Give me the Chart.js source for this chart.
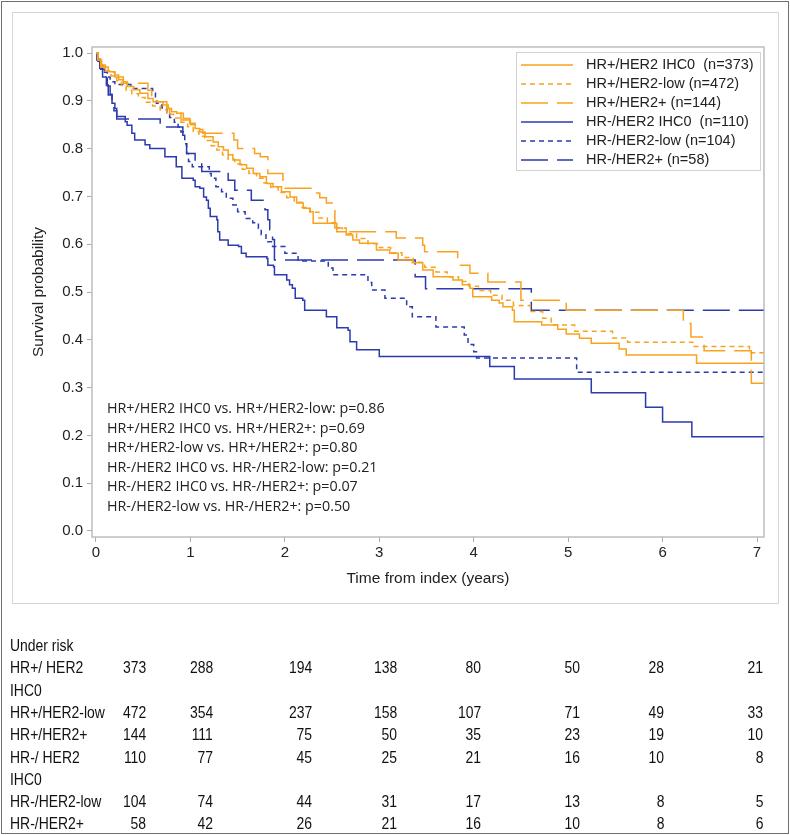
<!DOCTYPE html>
<html>
<head>
<meta charset="utf-8">
<script src="https://cdn.jsdelivr.net/npm/chart.js@4.4.1/dist/chart.umd.min.js"></script>
<style>
  html, body { margin: 0; padding: 0; background: #fff; }
  #page { position: relative; width: 790px; height: 835px; overflow: hidden; font-family: 'Liberation Sans', Arial, sans-serif; }
  #outer { position: absolute; left: 1px; top: 1px; width: 786px; height: 831px; border: 1px solid #707070; }
  #panel { position: absolute; left: 12px; top: 12px; width: 765px; height: 590px; border: 1px solid #d6d6d6; }
  #chartBox { position: absolute; left: 0; top: 0; width: 790px; height: 610px; }
  #risk { position: absolute; left: 0; top: 0; width: 790px; height: 835px; color: #111;
          font-family: 'Liberation Sans Narrow', 'Arial Narrow', 'Liberation Sans', sans-serif; font-size: 17px; }
  .cell { position: absolute; white-space: nowrap; line-height: 20px; transform: scaleX(0.82); }
  .cell.l { transform-origin: left center; }
  .cell.r { transform-origin: right center; }
</style>
</head>
<body>
<div id="page">
  <div id="outer"></div>
  <div id="panel"></div>
  <div id="chartBox"><canvas id="km" width="790" height="610"></canvas></div>
  <div id="risk"></div>
</div>
<script>
// ---- chart data ----
const xTicks = [0, 1, 2, 3, 4, 5, 6, 7];
const yTicks = [0, 0.1, 0.2, 0.3, 0.4, 0.5, 0.6, 0.7, 0.8, 0.9, 1.0];

const seriesNames = ['HR+/HER2 IHC0  (n=373)', 'HR+/HER2-low (n=472)', 'HR+/HER2+ (n=144)',
                     'HR-/HER2 IHC0  (n=110)', 'HR-/HER2-low (n=104)', 'HR-/HER2+ (n=58)'];

// HR+/HER2 IHC0
const hrPosIhc0Time = [0, 0.02, 0.06, 0.13, 0.2, 0.24, 0.29, 0.33, 0.4, 0.465, 0.55, 0.605, 0.71, 0.765, 0.8, 0.855,
  0.925, 0.995, 1.05, 1.1, 1.155, 1.24, 1.295, 1.35, 1.4, 1.45, 1.525, 1.595, 1.665, 1.735, 1.805, 1.875, 1.965,
  2.055, 2.125, 2.195, 2.265, 2.30, 2.55, 2.65, 2.72, 2.79, 2.97, 3.11, 3.20, 3.35, 3.46, 3.57, 3.78, 3.88, 3.96,
  3.99, 4.19, 4.27, 4.31, 4.41, 4.43, 4.72, 4.89, 4.98, 5.12, 5.245, 5.54, 5.615, 6.36, 7.07];
const hrPosIhc0Surv = [1.0, 0.985, 0.971, 0.961, 0.954, 0.944, 0.94, 0.93, 0.923, 0.916, 0.905, 0.898, 0.891, 0.884,
  0.877, 0.874, 0.863, 0.853, 0.842, 0.835, 0.825, 0.814, 0.804, 0.797, 0.787, 0.776, 0.766, 0.759, 0.748, 0.741,
  0.727, 0.72, 0.71, 0.699, 0.686, 0.675, 0.668, 0.644, 0.626, 0.619, 0.609, 0.602, 0.588, 0.581, 0.567, 0.561,
  0.546, 0.532, 0.525, 0.515, 0.508, 0.49, 0.483, 0.477, 0.469, 0.462, 0.438, 0.431, 0.422, 0.412, 0.403, 0.393,
  0.381, 0.368, 0.351, 0.351];

// HR+/HER2-low
const hrPosLowTime = [0, 0.02, 0.05, 0.1, 0.16, 0.22, 0.27, 0.32, 0.38, 0.45, 0.52, 0.6, 0.68, 0.75, 0.82, 0.9, 0.97,
  1.03, 1.09, 1.15, 1.22, 1.28, 1.34, 1.4, 1.47, 1.55, 1.62, 1.7, 1.78, 1.85, 1.93, 2.02, 2.1, 2.18, 2.27, 2.36, 2.45,
  2.55, 2.65, 2.76, 2.88, 3.0, 3.12, 3.24, 3.36, 3.48, 3.6, 3.72, 3.84, 3.95, 4.05, 4.18, 4.3, 4.42, 4.6, 4.73, 4.82,
  5.07, 5.47, 5.63, 6.32, 6.92, 7.07];
const hrPosLowSurv = [1.0, 0.988, 0.975, 0.963, 0.952, 0.942, 0.932, 0.922, 0.915, 0.907, 0.897, 0.889, 0.881, 0.872,
  0.864, 0.855, 0.846, 0.836, 0.826, 0.817, 0.806, 0.797, 0.787, 0.778, 0.768, 0.757, 0.748, 0.738, 0.728, 0.719,
  0.708, 0.697, 0.688, 0.677, 0.667, 0.655, 0.645, 0.634, 0.622, 0.612, 0.601, 0.593, 0.582, 0.572, 0.562, 0.552,
  0.542, 0.532, 0.522, 0.512, 0.503, 0.493, 0.483, 0.472, 0.459, 0.445, 0.431, 0.418, 0.404, 0.395, 0.386, 0.373, 0.373];

// HR+/HER2+
const hrPosPosTime = [0, 0.02, 0.05, 0.1, 0.2, 0.29, 0.55, 0.59, 0.65, 0.75, 0.78, 0.9, 1.0, 1.1, 1.13, 1.46, 1.5,
  1.68, 1.74, 1.82, 1.98, 2.0, 2.32, 2.37, 2.44, 2.51, 2.53, 2.61, 3.18, 3.46, 3.48, 3.83, 3.96, 4.15, 4.5, 4.96,
  4.98, 6.22, 6.3, 6.44, 6.94, 7.07];
const hrPosPosSurv = [1.0, 0.985, 0.97, 0.96, 0.95, 0.937, 0.922, 0.909, 0.898, 0.884, 0.874, 0.86, 0.85, 0.84,
  0.832, 0.818, 0.80, 0.79, 0.783, 0.748, 0.72, 0.717, 0.707, 0.697, 0.686, 0.672, 0.634, 0.626, 0.613, 0.598,
  0.584, 0.556, 0.539, 0.521, 0.483, 0.476, 0.462, 0.434, 0.406, 0.377, 0.309, 0.309];

// HR-/HER2 IHC0
const hrNegIhc0Time = [0, 0.01, 0.04, 0.07, 0.11, 0.13, 0.17, 0.2, 0.22, 0.31, 0.33, 0.38, 0.41, 0.52, 0.57, 0.73,
  0.85, 0.91, 1.03, 1.05, 1.10, 1.14, 1.17, 1.19, 1.21, 1.28, 1.29, 1.31, 1.40, 1.51, 1.54, 1.59, 1.81, 1.82, 1.88,
  1.89, 2.02, 2.05, 2.08, 2.11, 2.19, 2.21, 2.44, 2.55, 2.67, 2.69, 2.76, 3.0, 4.17, 4.43, 5.245, 5.82, 6.0, 6.31, 7.07];
const hrNegIhc0Surv = [1.0, 0.985, 0.968, 0.95, 0.933, 0.912, 0.895, 0.884, 0.867, 0.856, 0.849, 0.832, 0.818,
  0.808, 0.80, 0.783, 0.762, 0.738, 0.734, 0.72, 0.717, 0.699, 0.692, 0.675, 0.658, 0.651, 0.626, 0.609, 0.598,
  0.595, 0.581, 0.574, 0.570, 0.556, 0.553, 0.536, 0.525, 0.515, 0.508, 0.487, 0.483, 0.462, 0.448, 0.425, 0.42,
  0.396, 0.379, 0.365, 0.344, 0.318, 0.289, 0.259, 0.228, 0.197, 0.197];

// HR-/HER2-low
const hrNegLowTime = [0, 0.02, 0.04, 0.07, 0.09, 0.12, 0.15, 0.2, 0.37, 0.6, 0.63, 0.64, 0.7, 0.75, 0.78, 0.83, 0.87,
  0.9, 0.94, 0.96, 0.98, 1.02, 1.2, 1.22, 1.27, 1.33, 1.38, 1.45, 1.5, 1.58, 1.66, 1.72, 1.75, 1.8, 1.87, 2.0, 2.14,
  2.46, 2.51, 2.88, 2.92, 3.06, 3.29, 3.35, 3.6, 3.9, 3.94, 4.0, 4.03, 5.09, 7.07];
const hrNegLowSurv = [1.0, 0.99, 0.98, 0.97, 0.96, 0.95, 0.94, 0.934, 0.926, 0.916, 0.905, 0.895, 0.885, 0.875,
  0.865, 0.855, 0.845, 0.835, 0.81, 0.79, 0.773, 0.762, 0.748, 0.738, 0.72, 0.71, 0.696, 0.682, 0.668, 0.654, 0.645,
  0.633, 0.62, 0.605, 0.595, 0.581, 0.565, 0.55, 0.536, 0.52, 0.504, 0.487, 0.469, 0.448, 0.427, 0.41, 0.39, 0.375,
  0.362, 0.332, 0.332];

// HR-/HER2+
const hrNegPosTime = [0, 0.02, 0.05, 0.09, 0.12, 0.15, 0.17, 0.19, 0.22, 0.68, 0.92, 0.94, 0.96, 1.05, 1.12, 1.40,
  1.47, 1.645, 1.79, 1.82, 1.84, 1.87, 1.89, 3.38, 3.49, 4.61, 7.07];
const hrNegPosSurv = [1.0, 0.983, 0.966, 0.948, 0.931, 0.914, 0.897, 0.879, 0.862, 0.845, 0.828, 0.81, 0.79, 0.772,
  0.752, 0.734, 0.713, 0.692, 0.672, 0.651, 0.63, 0.61, 0.567, 0.532, 0.507, 0.462, 0.462];

const pValueLines = [
  'HR+/HER2 IHC0 vs. HR+/HER2-low: p=0.86',
  'HR+/HER2 IHC0 vs. HR+/HER2+: p=0.69',
  'HR+/HER2-low vs. HR+/HER2+: p=0.80',
  'HR-/HER2 IHC0 vs. HR-/HER2-low: p=0.21',
  'HR-/HER2 IHC0 vs. HR-/HER2+: p=0.07',
  'HR-/HER2-low vs. HR-/HER2+: p=0.50'
];

// numbers at risk, one row per group, columns at years 0..7
const riskTitle = 'Under risk';
const riskGroupLabels = [['HR+/ HER2', 'IHC0'], ['HR+/HER2-low'], ['HR+/HER2+'], ['HR-/ HER2', 'IHC0'], ['HR-/HER2-low'], ['HR-/HER2+']];
const riskHrPosIhc0 = [373, 288, 194, 138, 80, 50, 28, 21];
const riskHrPosLow  = [472, 354, 237, 158, 107, 71, 49, 33];
const riskHrPosPos  = [144, 111, 75, 50, 35, 23, 19, 10];
const riskHrNegIhc0 = [110, 77, 45, 25, 21, 16, 10, 8];
const riskHrNegLow  = [104, 74, 44, 31, 17, 13, 8, 5];
const riskHrNegPos  = [58, 42, 26, 21, 16, 10, 8, 6];

// ---- styling ----
const ORANGE = '#F9A21E';
const BLUE = '#2B3BAE';
const SHORT_DASH = [5, 4];
const LONG_DASH = [27, 9];
const FONT = "'Liberation Sans', Arial, sans-serif";

const series = [
  { t: hrPosIhc0Time, s: hrPosIhc0Surv, color: ORANGE, dash: [] },
  { t: hrPosLowTime,  s: hrPosLowSurv,  color: ORANGE, dash: SHORT_DASH },
  { t: hrPosPosTime,  s: hrPosPosSurv,  color: ORANGE, dash: LONG_DASH },
  { t: hrNegIhc0Time, s: hrNegIhc0Surv, color: BLUE,   dash: [] },
  { t: hrNegLowTime,  s: hrNegLowSurv,  color: BLUE,   dash: SHORT_DASH },
  { t: hrNegPosTime,  s: hrNegPosSurv,  color: BLUE,   dash: LONG_DASH }
];

// plot frame (box round the chart area)
const framePlugin = {
  id: 'frame',
  beforeDatasetsDraw(chart) {
    const { ctx, chartArea: a } = chart;
    ctx.save();
    ctx.strokeStyle = '#b9bdc2';
    ctx.lineWidth = 1.5;
    ctx.strokeRect(a.left, a.top, a.right - a.left, a.bottom - a.top);
    ctx.restore();
  }
};

// legend box in the upper right, drawn with line samples
const legendPlugin = {
  id: 'kmLegend',
  afterDatasetsDraw(chart) {
    const ctx = chart.ctx;
    const box = { x: 516.5, y: 52.5, w: 244, h: 118 };
    ctx.save();
    ctx.fillStyle = '#fff';
    ctx.fillRect(box.x, box.y, box.w, box.h);
    ctx.strokeStyle = '#d2d2d2';
    ctx.lineWidth = 1;
    ctx.strokeRect(box.x, box.y, box.w, box.h);
    ctx.font = '14.5px ' + FONT;
    ctx.textBaseline = 'middle';
    seriesNames.forEach((name, i) => {
      const y = 65 + i * 19;
      ctx.strokeStyle = series[i].color;
      ctx.lineWidth = 1.5;
      ctx.setLineDash(series[i].dash);
      ctx.beginPath();
      ctx.moveTo(521, y);
      ctx.lineTo(573, y);
      ctx.stroke();
      ctx.setLineDash([]);
      ctx.fillStyle = '#222';
      ctx.fillText(name, 586, y);
    });
    ctx.restore();
  }
};

// log-rank p values in the lower left
const pValuePlugin = {
  id: 'pValues',
  afterDatasetsDraw(chart) {
    const ctx = chart.ctx;
    ctx.save();
    ctx.font = "14.3px 'Open Sans', sans-serif";
    ctx.fillStyle = '#222';
    ctx.textBaseline = 'middle';
    pValueLines.forEach((line, i) => ctx.fillText(line, 107, 409 + i * 19.6));
    ctx.restore();
  }
};

new Chart(document.getElementById('km'), {
  type: 'line',
  data: {
    datasets: series.map((s, i) => ({
      label: seriesNames[i],
      data: s.t.map((t, k) => ({ x: t, y: s.s[k] })),
      borderColor: s.color,
      borderWidth: 1.5,
      borderDash: s.dash,
      stepped: true,
      pointRadius: 0,
      fill: false
    }))
  },
  options: {
    responsive: false,
    animation: false,
    layout: { padding: { left: 25, top: 47, right: 26, bottom: 18 } },
    plugins: { legend: { display: false }, tooltip: { enabled: false } },
    scales: {
      x: {
        type: 'linear', min: -0.042, max: 7.074,
        afterBuildTicks: sc => { sc.ticks = xTicks.map(v => ({ value: v })); },
        afterFit: sc => { sc.height = 55; },
        grid: { drawOnChartArea: false, drawTicks: true, tickLength: 5, color: '#a9adb2' },
        border: { display: false },
        ticks: { color: '#222', font: { size: 15, family: FONT }, padding: 2, maxRotation: 0, autoSkip: false },
        title: { display: true, text: 'Time from index (years)', color: '#222', font: { size: 15.5, family: FONT }, padding: { top: 4, bottom: 4 } }
      },
      y: {
        type: 'linear', min: -0.0126, max: 1.0126,
        afterBuildTicks: sc => { sc.ticks = yTicks.map(v => ({ value: v })); },
        afterFit: sc => { sc.width = 67; },
        grid: { drawOnChartArea: false, drawTicks: true, tickLength: 5, color: '#a9adb2' },
        border: { display: false },
        ticks: { color: '#222', font: { size: 15, family: FONT }, padding: 4, callback: v => Number(v).toFixed(1) },
        title: { display: true, text: 'Survival probability', color: '#222', font: { size: 15.5, family: FONT }, padding: { top: 4, bottom: 4 } }
      }
    }
  },
  plugins: [framePlugin, legendPlugin, pValuePlugin]
});

// ---- number-at-risk table under the plot ----
(function buildRiskTable() {
  const risk = document.getElementById('risk');
  const rows = [riskHrPosIhc0, riskHrPosLow, riskHrPosPos, riskHrNegIhc0, riskHrNegLow, riskHrNegPos];
  const colRight = [146, 213, 312, 397, 481, 580, 664, 763];
  const lineGap = 22.3;

  function cell(text, y, left, right) {
    const d = document.createElement('div');
    d.textContent = text;
    d.style.top = (y - 10) + 'px';
    if (right !== undefined) { d.className = 'cell r'; d.style.right = (790 - right) + 'px'; }
    else { d.className = 'cell l'; d.style.left = left + 'px'; }
    risk.appendChild(d);
  }

  let y = 646;
  cell(riskTitle, y, 10);
  rows.forEach((vals, r) => {
    y += lineGap;
    riskGroupLabels[r].forEach((lbl, k) => cell(lbl, y + k * lineGap, 10));
    vals.forEach((v, c) => cell(String(v), y, undefined, colRight[c]));
    y += (riskGroupLabels[r].length - 1) * lineGap;
  });
})();
</script>
</body>
</html>
